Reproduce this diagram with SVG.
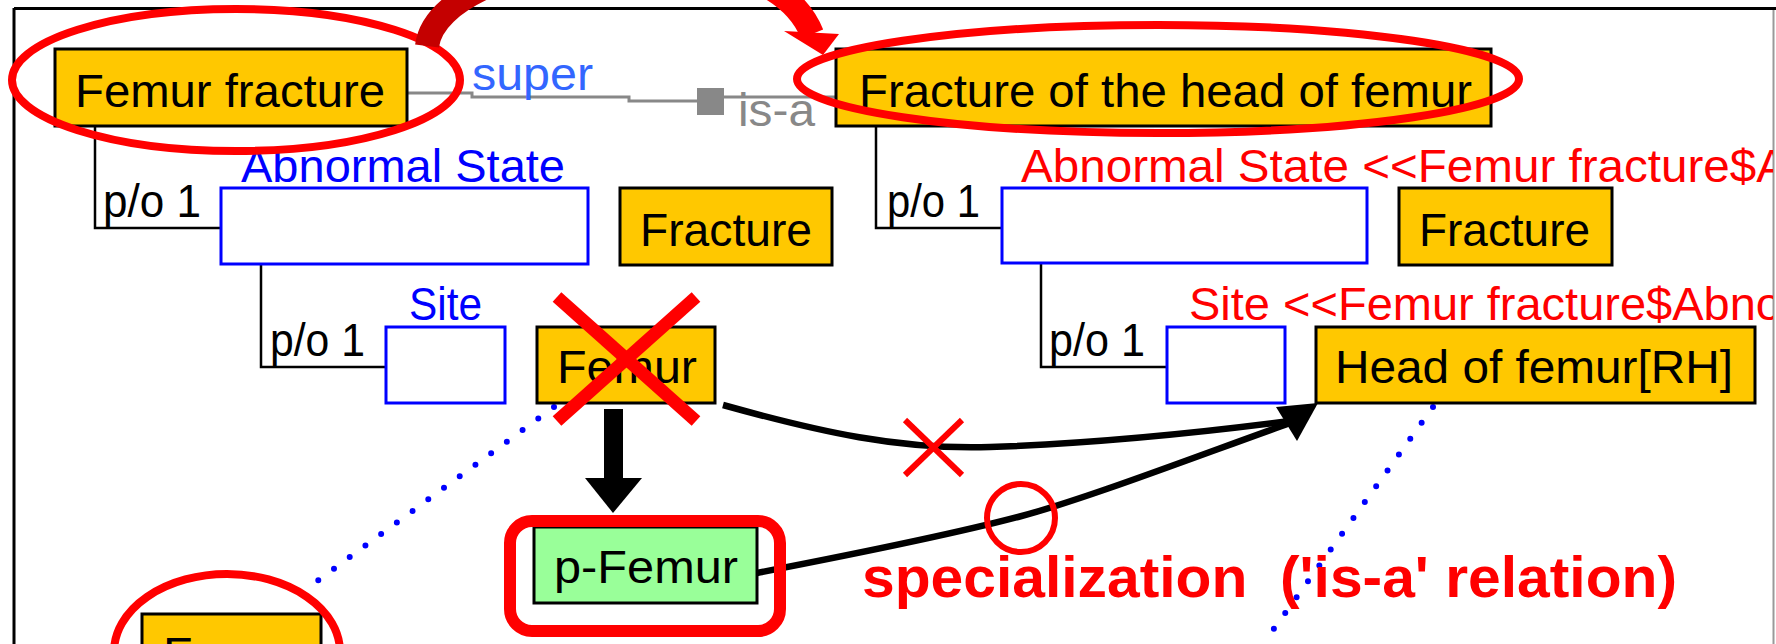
<svg xmlns="http://www.w3.org/2000/svg" width="1776" height="644" viewBox="0 0 1776 644">
  <style>
    .box { fill: #FFC800; stroke: #000; stroke-width: 3; }
    .pbox { fill: #99FF99; stroke: #000; stroke-width: 3; }
    .slot { fill: #FFFFFF; stroke: #0000FF; stroke-width: 3; }
    .lbl { font-family: "Liberation Sans", Arial, sans-serif; font-size: 46px; fill: #000; }
    .role { fill: #0000FF; }
    .inherited { fill: #FF0000; }
    .po { fill: none; stroke: #000; stroke-width: 2.5; }
    .isa { fill: none; stroke: #888; stroke-width: 3; }
    .instance { fill: none; stroke: #0000FF; stroke-width: 6; stroke-linecap: round; stroke-dasharray: 0 19.5; }
    .curve { fill: none; stroke: #000; stroke-width: 6.5; }
    .mark { fill: none; stroke: #FF0000; stroke-width: 8; }
    .note { font-family: "Liberation Sans", Arial, sans-serif; font-weight: bold; font-size: 58px; fill: #FF0000; white-space: pre; }
  </style>
  <defs>
    <clipPath id="frameClip">
      <rect x="14" y="8" width="1759" height="640"/>
    </clipPath>
    <linearGradient id="arcFill" gradientUnits="userSpaceOnUse" x1="420" y1="0" x2="820" y2="0">
      <stop offset="0" stop-color="#C40000"/>
      <stop offset="0.45" stop-color="#C40000"/>
      <stop offset="0.55" stop-color="#FF0000"/>
      <stop offset="1" stop-color="#FF0000"/>
    </linearGradient>
  </defs>

  <rect x="0" y="0" width="1776" height="644" fill="#FFFFFF"/>

  <!-- ontology editor frame -->
  <g id="frame">
    <line x1="14" y1="8.5" x2="1776" y2="8.5" stroke="#000" stroke-width="3"/>
    <line x1="14" y1="8" x2="14" y2="644" stroke="#000" stroke-width="3"/>
    <line x1="1773.5" y1="10" x2="1773.5" y2="644" stroke="#999" stroke-width="2"/>
  </g>

  <!-- connectors -->
  <g id="connectors">
    <!-- is-a link between the two concepts -->
    <polyline class="isa" points="407,93 472,93 472,97 629,97 629,101 697,101"/>
    <rect x="697" y="88" width="27" height="27" fill="#888"/>
    <line class="isa" x1="724" y1="97" x2="836" y2="97"/>
    <text class="lbl" x="472" y="90" style="fill:#3366FF" textLength="121" lengthAdjust="spacingAndGlyphs">super</text>
    <text class="lbl" x="738" y="126" style="fill:#888" textLength="77" lengthAdjust="spacingAndGlyphs">is-a</text>

    <!-- part-of links -->
    <polyline class="po" points="95,126 95,228 221,228"/>
    <polyline class="po" points="261,264 261,367 386,367"/>
    <polyline class="po" points="876,126 876,228 1002,228"/>
    <polyline class="po" points="1041,264 1041,367 1167,367"/>
    <text class="lbl" x="103" y="217" textLength="98" lengthAdjust="spacingAndGlyphs">p/o 1</text>
    <text class="lbl" x="270" y="356" textLength="95" lengthAdjust="spacingAndGlyphs">p/o 1</text>
    <text class="lbl" x="887" y="217" textLength="93" lengthAdjust="spacingAndGlyphs">p/o 1</text>
    <text class="lbl" x="1049" y="356" textLength="96" lengthAdjust="spacingAndGlyphs">p/o 1</text>

    <!-- instance links (dotted) -->
    <line class="instance" x1="554" y1="407" x2="309" y2="587"/>
    <line class="instance" x1="1433" y1="407" x2="1263" y2="644"/>

    <!-- class constraint replaced: Femur -> p-Femur -->
    <rect x="604" y="409" width="19" height="71" fill="#000"/>
    <polygon points="585,478 642,478 613,513" fill="#000"/>

    <!-- Femur -> Head of femur (rejected) and p-Femur -> Head of femur (accepted) -->
    <path class="curve" d="M723,405 C820,432 900,450 990,447 C1080,444 1190,434 1290,421"/>
    <path class="curve" d="M757,573 C850,555 950,535 1018,517 C1086,499 1200,455 1290,423"/>
    <polygon points="1318,403 1276,407 1297,441" fill="#000"/>
  </g>

  <!-- concept: Femur fracture -->
  <g id="node-femur-fracture">
    <rect class="box" x="55" y="49" width="352" height="77"/>
    <text class="lbl" x="75" y="107" textLength="310" lengthAdjust="spacingAndGlyphs">Femur fracture</text>
  </g>
  <g id="slot-abnormal-state">
    <text class="lbl role" x="241" y="182" textLength="324" lengthAdjust="spacingAndGlyphs">Abnormal State</text>
    <rect class="slot" x="221" y="188" width="367" height="76"/>
  </g>
  <g id="node-fracture">
    <rect class="box" x="620" y="188" width="212" height="77"/>
    <text class="lbl" x="640" y="246" textLength="172" lengthAdjust="spacingAndGlyphs">Fracture</text>
  </g>
  <g id="slot-site">
    <text class="lbl role" x="409" y="320" textLength="73" lengthAdjust="spacingAndGlyphs">Site</text>
    <rect class="slot" x="386" y="327" width="119" height="76"/>
  </g>
  <g id="node-femur">
    <rect class="box" x="537" y="327" width="178" height="76"/>
    <text class="lbl" x="557" y="383" textLength="140" lengthAdjust="spacingAndGlyphs">Femur</text>
  </g>
  <g id="node-p-femur">
    <rect class="pbox" x="534" y="527" width="223" height="76"/>
    <text class="lbl" x="554" y="583" textLength="184" lengthAdjust="spacingAndGlyphs">p-Femur</text>
  </g>
  <g id="node-femur-instance">
    <rect class="box" x="142" y="614" width="179" height="77"/>
    <text class="lbl" x="163" y="670" textLength="140" lengthAdjust="spacingAndGlyphs">Femur</text>
  </g>

  <!-- concept: Fracture of the head of femur -->
  <g id="node-fracture-head-femur">
    <rect class="box" x="836" y="49" width="655" height="77"/>
    <text class="lbl" x="859" y="107" textLength="613" lengthAdjust="spacingAndGlyphs">Fracture of the head of femur</text>
  </g>
  <g id="slot-abnormal-state-inherited" clip-path="url(#frameClip)">
    <text class="lbl inherited" x="1021" y="182" textLength="767" lengthAdjust="spacingAndGlyphs">Abnormal State &lt;&lt;Femur fracture$A</text>
    <rect class="slot" x="1002" y="188" width="365" height="75"/>
  </g>
  <g id="node-fracture-2">
    <rect class="box" x="1399" y="188" width="213" height="77"/>
    <text class="lbl" x="1419" y="246" textLength="171" lengthAdjust="spacingAndGlyphs">Fracture</text>
  </g>
  <g id="slot-site-inherited" clip-path="url(#frameClip)">
    <text class="lbl inherited" x="1189" y="320" textLength="593" lengthAdjust="spacingAndGlyphs">Site &lt;&lt;Femur fracture$Abno</text>
    <rect class="slot" x="1167" y="327" width="118" height="76"/>
  </g>
  <g id="node-head-of-femur">
    <rect class="box" x="1316" y="327" width="439" height="76"/>
    <text class="lbl" x="1335" y="383" textLength="398" lengthAdjust="spacingAndGlyphs">Head of femur[RH]</text>
  </g>

  <!-- red highlights -->
  <g id="highlights">
    <ellipse class="mark" cx="236" cy="80" rx="224" ry="71"/>
    <ellipse class="mark" cx="1158" cy="79" rx="361" ry="54"/>
    <ellipse class="mark" cx="227" cy="652" rx="113" ry="78"/>
    <rect x="510" y="521" width="270" height="110" rx="22" ry="22" fill="none" stroke="#FF0000" stroke-width="12"/>
    <!-- big curved arrow: Femur fracture -> Fracture of the head of femur -->
    <path d="M427,46 C440,-50 765,-85 812,34" fill="none" stroke="url(#arcFill)" stroke-width="24"/>
    <polygon points="784,31 839,34 823,55" fill="#FF0000"/>
    <!-- cross over Femur -->
    <line x1="557" y1="297" x2="696" y2="421" stroke="#FF0000" stroke-width="13"/>
    <line x1="696" y1="297" x2="557" y2="421" stroke="#FF0000" stroke-width="13"/>
    <!-- small cross and circle on the two curves -->
    <line x1="905" y1="420" x2="962" y2="475" stroke="#FF0000" stroke-width="6"/>
    <line x1="962" y1="420" x2="905" y2="475" stroke="#FF0000" stroke-width="6"/>
    <circle cx="1021" cy="518" r="34" fill="none" stroke="#FF0000" stroke-width="6"/>
    <text class="note" x="862" y="597" xml:space="preserve" textLength="815" lengthAdjust="spacingAndGlyphs">specialization  ('is-a' relation)</text>
  </g>
</svg>
